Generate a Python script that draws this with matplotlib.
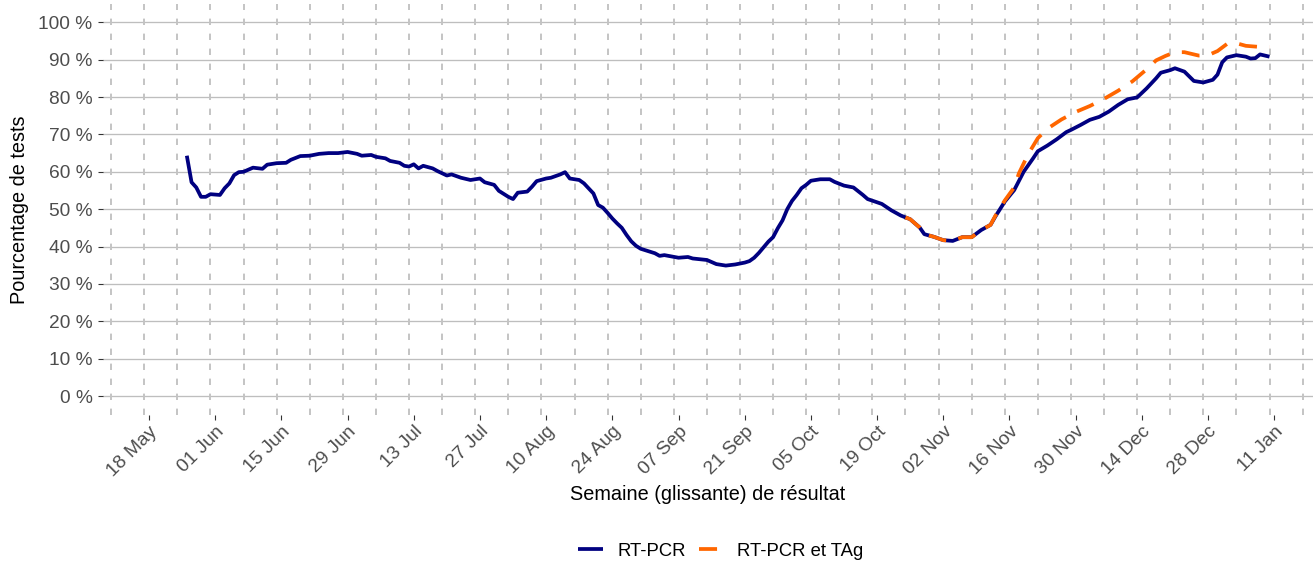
import matplotlib
matplotlib.use("Agg")
import matplotlib.pyplot as plt
import matplotlib.dates as mdates
from matplotlib.lines import Line2D
import numpy as np
import pandas as pd

# ---------------- data ----------------
pcr_dates = [
    "2020-05-26", "2020-05-27", "2020-05-28", "2020-05-29", "2020-05-30", "2020-05-31",
    "2020-06-02", "2020-06-03", "2020-06-04", "2020-06-05", "2020-06-06", "2020-06-07",
    "2020-06-09", "2020-06-11", "2020-06-12", "2020-06-14", "2020-06-16", "2020-06-17",
    "2020-06-19", "2020-06-21", "2020-06-23", "2020-06-25", "2020-06-27", "2020-06-29",
    "2020-07-01", "2020-07-02", "2020-07-04", "2020-07-05", "2020-07-07", "2020-07-08",
    "2020-07-10", "2020-07-11", "2020-07-12", "2020-07-13", "2020-07-14", "2020-07-15",
    "2020-07-17", "2020-07-18", "2020-07-20", "2020-07-21", "2020-07-23", "2020-07-25",
    "2020-07-27", "2020-07-28", "2020-07-30", "2020-07-31", "2020-08-02", "2020-08-03",
    "2020-08-04", "2020-08-06", "2020-08-07", "2020-08-08", "2020-08-10", "2020-08-11",
    "2020-08-13", "2020-08-14", "2020-08-15", "2020-08-17", "2020-08-18", "2020-08-20",
    "2020-08-21", "2020-08-22", "2020-08-23", "2020-08-24", "2020-08-25", "2020-08-26",
    "2020-08-27", "2020-08-28", "2020-08-29", "2020-08-30", "2020-09-02", "2020-09-03",
    "2020-09-04", "2020-09-07", "2020-09-09", "2020-09-10", "2020-09-13", "2020-09-15",
    "2020-09-17", "2020-09-19", "2020-09-21", "2020-09-22", "2020-09-23", "2020-09-24",
    "2020-09-25", "2020-09-26", "2020-09-27", "2020-09-28", "2020-09-29", "2020-09-30",
    "2020-10-01", "2020-10-02", "2020-10-03", "2020-10-04", "2020-10-05", "2020-10-07",
    "2020-10-09", "2020-10-10", "2020-10-12", "2020-10-14", "2020-10-16", "2020-10-17",
    "2020-10-20", "2020-10-22", "2020-10-24", "2020-10-26", "2020-10-28", "2020-10-29",
    "2020-10-31", "2020-11-02", "2020-11-04", "2020-11-06", "2020-11-08", "2020-11-10",
    "2020-11-12", "2020-11-13", "2020-11-15", "2020-11-17", "2020-11-19", "2020-11-21",
    "2020-11-22", "2020-11-24", "2020-11-26", "2020-11-28", "2020-11-29", "2020-12-01",
    "2020-12-03", "2020-12-05", "2020-12-07", "2020-12-09", "2020-12-11", "2020-12-13",
    "2020-12-15", "2020-12-17", "2020-12-18", "2020-12-20", "2020-12-21", "2020-12-23",
    "2020-12-25", "2020-12-27", "2020-12-29", "2020-12-30", "2020-12-31", "2021-01-01",
    "2021-01-03", "2021-01-05", "2021-01-06", "2021-01-07", "2021-01-08", "2021-01-10",
]
pcr_values = [
    64.3, 57.2, 55.8, 53.3, 53.3, 54.0,
    53.8, 55.6, 56.9, 59.1, 59.9, 60.0,
    61.1, 60.8, 61.9, 62.3, 62.4, 63.2,
    64.2, 64.3, 64.8, 65.0, 65.0, 65.3,
    64.8, 64.3, 64.5, 64.0, 63.6, 62.9,
    62.4, 61.6, 61.4, 62.0, 60.9, 61.6,
    60.9, 60.2, 59.0, 59.3, 58.4, 57.8,
    58.2, 57.2, 56.5, 54.9, 53.3, 52.7,
    54.4, 54.7, 56.0, 57.5, 58.2, 58.4,
    59.3, 59.9, 58.2, 57.8, 56.9, 54.2,
    51.1, 50.4, 49.0, 47.5, 46.2, 45.0,
    43.1, 41.4, 40.2, 39.4, 38.2, 37.5,
    37.7, 37.0, 37.2, 36.8, 36.4, 35.3,
    34.9, 35.2, 35.7, 36.1, 37.0, 38.3,
    39.8, 41.3, 42.5, 44.9, 47.0, 50.0,
    52.2, 53.8, 55.6, 56.5, 57.6, 58.0,
    58.0, 57.3, 56.3, 55.8, 53.8, 52.7,
    51.4, 49.7, 48.3, 47.3, 45.1, 43.3,
    42.6, 41.7, 41.5, 42.5, 42.5, 44.4,
    45.8, 48.0, 52.0, 55.1, 60.0, 63.6,
    65.5, 67.0, 68.7, 70.6, 71.2, 72.5,
    73.9, 74.7, 76.1, 77.9, 79.4, 79.9,
    82.3, 85.0, 86.5, 87.2, 87.7, 86.8,
    84.3, 83.9, 84.6, 86.0, 89.3, 90.6,
    91.2, 90.8, 90.3, 90.4, 91.4, 90.8,
]

tag_dates = [
    "2020-10-25", "2020-10-26", "2020-10-28", "2020-10-29", "2020-10-31", "2020-11-02",
    "2020-11-04", "2020-11-06", "2020-11-08", "2020-11-10", "2020-11-12", "2020-11-13",
    "2020-11-15", "2020-11-17", "2020-11-18", "2020-11-20", "2020-11-22", "2020-11-24",
    "2020-11-27", "2020-11-30", "2020-12-03", "2020-12-06", "2020-12-09", "2020-12-12",
    "2020-12-15", "2020-12-17", "2020-12-19", "2020-12-21", "2020-12-23", "2020-12-26",
    "2020-12-28", "2020-12-30", "2021-01-01", "2021-01-03", "2021-01-05", "2021-01-08",
    "2021-01-10",
]
tag_values = [
    47.8, 47.3, 45.1, 43.3, 42.6, 41.7,
    41.5, 42.5, 42.5, 44.4, 45.8, 48.2,
    52.3, 55.8, 59.6, 64.8, 69.0, 71.5,
    74.0, 76.0, 77.6, 79.5, 81.7, 84.2,
    87.4, 89.8, 91.0, 92.0, 92.0, 91.1,
    91.2, 92.3, 94.2, 94.4, 93.7, 93.4,
    93.4,
]

series_labels = ["RT-PCR", "RT-PCR et TAg"]
x_title = "Semaine (glissante) de résultat"
y_title = "Pourcentage de tests"
y_ticks = [0, 10, 20, 30, 40, 50, 60, 70, 80, 90, 100]

# ---------------- style ----------------
plt.rcParams['font.family'] = ['Liberation Sans', 'DejaVu Sans']
plt.rcParams['lines.scale_dashes'] = False

W, H = 1315, 561
fig = plt.figure(figsize=(W / 100, H / 100), dpi=100)
left_px, right_px, top_px, bottom_px = 103, 1313, 3.6, 415
ax = fig.add_axes([left_px / W, 1 - bottom_px / H,
                   (right_px - left_px) / W, (bottom_px - top_px) / H])

navy = "#000080"
orange = "#FF6600"
grid_col = "#BEBEBE"
LW = 2.7
DASH = (0, (13.0, 9.0))

pcr_x = pd.to_datetime(pcr_dates)
tag_x = pd.to_datetime(tag_dates)

ref = pd.Timestamp("2020-05-18")
x0 = mdates.date2num(ref) - 9.73
x1 = mdates.date2num(ref) + 246.2
ax.set_xlim(x0, x1)
ax.set_ylim(-5.08, 105.0)

# horizontal grid
for v in y_ticks:
    ax.axhline(v, color=grid_col, lw=0.95, zorder=0)

# weekly dashed vertical lines (Sundays)
sundays = pd.date_range("2020-05-10", "2021-01-17", freq="7D")
for d in sundays:
    ax.axvline(mdates.date2num(d), color="#C4C4C4", lw=1.4,
               linestyle=(0, (4.6, 6.2)), zorder=0.5)

ax.plot(pcr_x, pcr_values, color=navy, lw=LW, solid_joinstyle="round",
        solid_capstyle="butt", zorder=3)
ax.plot(tag_x, tag_values, color=orange, lw=LW, linestyle=DASH,
        dash_capstyle="butt", zorder=4)

for s in ax.spines.values():
    s.set_visible(False)

# ticks
ax.set_yticks(y_ticks)
ax.set_yticklabels([f"{v} %" for v in y_ticks])
xt = pd.date_range("2020-05-18", "2021-01-11", freq="14D")
ax.set_xticks(mdates.date2num(xt))
ax.set_xticklabels([d.strftime("%d %b") for d in xt])
ax.tick_params(axis="both", colors="#333333", length=3.3, width=0.8,
               labelcolor="#4D4D4D", labelsize=13.8)
ax.tick_params(axis="y", pad=4.2)
ax.tick_params(axis="x", pad=2.5)
for lbl in ax.get_xticklabels():
    lbl.set_rotation(45)
    lbl.set_ha("right")
    lbl.set_va("top")
    lbl.set_rotation_mode("anchor")

fig.text((left_px + right_px) / 2 / W, 1 - 494 / H, x_title, ha="center",
         va="center", fontsize=14.3, color="black")
fig.text(20 / W, 1 - 209.3 / H, y_title, ha="center", va="center",
         rotation=90, fontsize=14.3, color="black")

handles = [Line2D([], [], color=navy, lw=LW, solid_capstyle="butt"),
           Line2D([], [], color=orange, lw=LW, linestyle=DASH,
                  dash_capstyle="butt")]
fig.legend(handles, series_labels, loc="center", ncol=2, frameon=False,
           bbox_to_anchor=(721 / W, 1 - 551 / H), fontsize=13.3,
           handlelength=1.35, handletextpad=0.75, columnspacing=0.7,
           borderpad=0, borderaxespad=0)

fig.savefig("out.png", dpi=100)
